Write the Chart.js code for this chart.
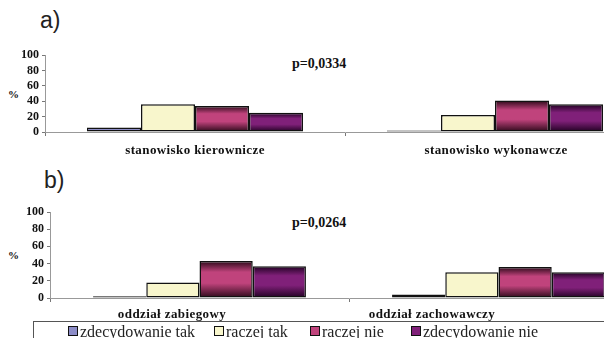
<!DOCTYPE html>
<html>
<head>
<meta charset="utf-8">
<script src="https://cdn.jsdelivr.net/npm/chart.js@4.4.0/dist/chart.umd.min.js"></script>
<style>
	body { margin: 0; width: 604px; height: 338px; overflow: hidden; background: #fff; position: relative; font-family: "Liberation Serif", "Times New Roman", "DejaVu Serif", serif; }
	.box { position: absolute; }
	.lbl { position: absolute; font-family: "Liberation Sans", Arial, sans-serif; font-size: 23px; color: #222; }
	.pv { position: absolute; font-weight: bold; font-size: 14px; color: #111; }
	.pct { position: absolute; font-weight: bold; font-size: 11px; color: #111; }
	.cat { position: absolute; font-weight: bold; font-size: 13px; color: #111; white-space: nowrap; transform: translateX(-50%); letter-spacing: 0.4px; }
	.legend { position: absolute; left: 33px; top: 321px; width: 700px; height: 40px; border-top: 1px solid #555; border-left: 1px solid #555; }
	.item { position: absolute; top: 1px; font-size: 16px; color: #222; white-space: nowrap; }
	.item span { display: inline-block; width: 8px; height: 8px; border: 1px solid #111; margin-right: 2px; vertical-align: 1px; }
</style>
</head>
<body>

<div class="lbl" style="left:40px; top:7px;">a)</div>
<div class="lbl" style="left:44px; top:167px;">b)</div>
<div class="pv" style="left:292px; top:56px;">p=0,0334</div>
<div class="pv" style="left:292px; top:215px;">p=0,0264</div>
<div class="pct" style="left:8px; top:88px;">%</div>
<div class="pct" style="left:8px; top:249px;">%</div>

<div class="box" style="left:0; top:45px;"><canvas id="chartA" width="645" height="115"></canvas></div>
<div class="box" style="left:0; top:200px;"><canvas id="chartB" width="648" height="120"></canvas></div>

<div class="cat" style="left:195px; top:142px;">stanowisko kierownicze</div>
<div class="cat" style="left:496px; top:142px;">stanowisko wykonawcze</div>
<div class="cat" style="left:172px; top:306px;">oddział zabiegowy</div>
<div class="cat" style="left:432px; top:306px;">oddział zachowawczy</div>

<div class="legend" id="legend"></div>

<script>
	// dane
	var seriesNames = ['zdecydowanie tak', 'raczej tak', 'raczej nie', 'zdecydowanie nie'];
	var catsA = ['stanowisko kierownicze', 'stanowisko wykonawcze'];
	var catsB = ['oddział zabiegowy', 'oddział zachowawczy'];
	var valuesA = [
		[6, 2],
		[36, 22],
		[34, 41],
		[25, 36]
	];
	var valuesB = [
		[2, 4],
		[18, 30],
		[43, 36],
		[37, 30]
	];
	var yTicks = [0, 20, 40, 60, 80, 100];

	var fills = ['#8d8dc8', '#f8f6cc', '#c0437c', '#802079'];
	var darks = [null, null, '#2a0818', '#1e0020'];

	// legenda
	var legendPos = [34, 180, 276, 377];
	var legend = document.getElementById('legend');
	seriesNames.forEach(function(name, i) {
		var d = document.createElement('div');
		d.className = 'item';
		d.style.left = legendPos[i] + 'px';
		d.innerHTML = '<span style="background:' + fills[i] + '"></span>' + name;
		legend.appendChild(d);
	});

	function barFill(i) {
		return function(ctx) {
			if (!darks[i]) return fills[i];
			var chart = ctx.chart;
			if (!chart.scales || !chart.scales.y || ctx.parsed == null) return fills[i];
			var top = chart.scales.y.getPixelForValue(ctx.parsed.y);
			var bottom = chart.scales.y.getPixelForValue(0);
			if (!isFinite(top) || bottom - top < 1) return fills[i];
			var g = chart.ctx.createLinearGradient(0, top, 0, bottom);
			g.addColorStop(0, darks[i]);
			g.addColorStop(0.3, fills[i]);
			g.addColorStop(0.6, fills[i]);
			g.addColorStop(1, darks[i]);
			return g;
		};
	}

	function makeChart(id, cats, values, opts) {
		var ctx = document.getElementById(id).getContext('2d');
		return new Chart(ctx, {
			type: 'bar',
			data: {
				labels: cats,
				datasets: values.map(function(v, i) {
					return {
						label: seriesNames[i],
						data: v,
						backgroundColor: barFill(i),
						borderColor: '#111',
						borderWidth: 1.5,
						borderSkipped: false,
						barPercentage: 1.0,
						categoryPercentage: opts.catPct
					};
				})
			},
			options: {
				responsive: false,
				animation: false,
				layout: { padding: { top: opts.padTop, right: 0, left: 0, bottom: 0 } },
				plugins: { legend: { display: false }, tooltip: { enabled: false } },
				scales: {
					x: {
						grid: { display: true, drawOnChartArea: false, offset: true, tickLength: 4, color: '#777' },
						border: { color: '#999', width: 1 },
						ticks: { display: false },
						afterFit: function(s) { s.height = opts.xHeight; }
					},
					y: {
						min: 0,
						max: 100,
						afterBuildTicks: function(s) { s.ticks = yTicks.map(function(v) { return { value: v }; }); },
						grid: { display: true, drawOnChartArea: false, tickLength: 3, color: '#777' },
						border: { color: '#999', width: 1 },
						ticks: {
							autoSkip: false,
							padding: 3,
							color: '#111',
							font: { family: '"Liberation Serif", "Times New Roman", "DejaVu Serif", serif', size: 12, weight: 'bold' }
						},
						afterFit: function(s) { s.width = opts.yWidth; }
					}
				}
			}
		});
	}

	makeChart('chartA', catsA, valuesA, { catPct: 0.72, padTop: 10, xHeight: 28, yWidth: 45 });
	makeChart('chartB', catsB, valuesB, { catPct: 0.712, padTop: 12, xHeight: 22, yWidth: 50 });
</script>
</body>
</html>
